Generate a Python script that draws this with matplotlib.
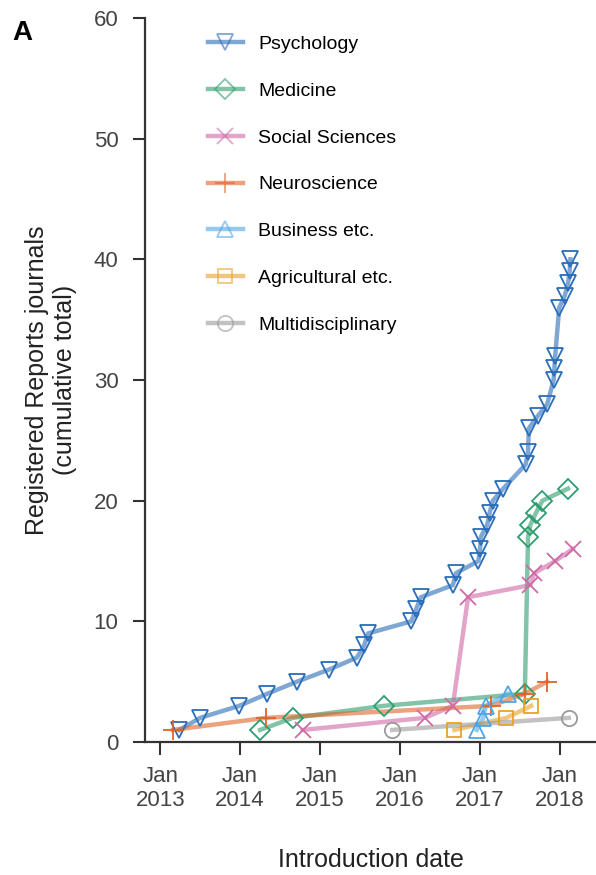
import matplotlib
matplotlib.use('Agg')
import matplotlib.pyplot as plt

plt.rcParams['font.family'] = ['Liberation Sans', 'DejaVu Sans']

# decimal years (introduction date) and cumulative totals
psych_dates = [2013.24, 2013.50, 2013.99, 2014.34, 2014.71, 2015.11, 2015.46, 2015.55, 2015.60,
               2016.14, 2016.20, 2016.26, 2016.66, 2016.70, 2016.98, 2017.00, 2017.01, 2017.09,
               2017.12, 2017.16, 2017.29, 2017.57, 2017.60, 2017.61, 2017.72, 2017.84, 2017.92,
               2017.93, 2017.94, 2017.99, 2018.06, 2018.10, 2018.12, 2018.13]
psych_vals = [1, 2, 3, 4, 5, 6, 7, 8, 9, 10, 11, 12, 13, 14, 15, 16, 17, 18, 19, 20, 21,
              23, 24, 26, 27, 28, 30, 31, 32, 36, 37, 38, 39, 40]

med_dates = [2014.25, 2014.66, 2015.80, 2017.56, 2017.60, 2017.63, 2017.70, 2017.78, 2018.10]
med_vals = [1, 2, 3, 4, 17, 18, 19, 20, 21]

soc_dates = [2014.78, 2016.31, 2016.66, 2016.85, 2017.63, 2017.68, 2017.94, 2018.16]
soc_vals = [1, 2, 3, 12, 13, 14, 15, 16]

neuro_dates = [2013.16, 2014.32, 2017.14, 2017.56, 2017.84]
neuro_vals = [1, 2, 3, 4, 5]

bus_dates = [2016.96, 2017.04, 2017.07, 2017.35]
bus_vals = [1, 2, 3, 4]

agri_dates = [2016.68, 2017.33, 2017.64]
agri_vals = [1, 2, 3]

multi_dates = [2015.90, 2018.11]
multi_vals = [1, 2]

years = [2013, 2014, 2015, 2016, 2017, 2018]
tick_labels = ['Jan\n%d' % y for y in years]

series = [
    ('Psychology', psych_dates, psych_vals, 'v', '#2a6db8'),
    ('Medicine', med_dates, med_vals, 'D', '#2e9e6e'),
    ('Social Sciences', soc_dates, soc_vals, 'x', '#cf6aa6'),
    ('Neuroscience', neuro_dates, neuro_vals, '+', '#de6428'),
    ('Business etc.', bus_dates, bus_vals, '^', '#4ea6e6'),
    ('Agricultural etc.', agri_dates, agri_vals, 's', '#e8a12a'),
    ('Multidisciplinary', multi_dates, multi_vals, 'o', '#9a9a9a'),
]
msizes = {'v': 11, 'D': 10, 'x': 11, '+': 15, '^': 11, 's': 10, 'o': 11}

fig = plt.figure(figsize=(5.96, 8.75), dpi=100)
ax = fig.add_axes([145 / 596, 133 / 875, 451 / 596, 724 / 875])

handles = []
for name, x, y, m, c in series:
    ax.plot(x, y, color=c, alpha=0.6, linewidth=3.2, zorder=2)
    ax.plot(x, y, linestyle='none', marker=m, markersize=msizes[m], markerfacecolor='none',
            markeredgecolor=c, markeredgewidth=1.3, zorder=3)
    h, = ax.plot([], [], color=c, linewidth=3.2, alpha=0.6, marker=m, markersize=msizes[m],
                 markerfacecolor='none', markeredgecolor=c, markeredgewidth=1.3)
    handles.append(h)

ax.legend(handles, [s[0] for s in series], loc='upper left', bbox_to_anchor=(0.10, 1.0),
          frameon=False, fontsize=14, labelspacing=1.5, handlelength=1.8, handletextpad=0.8)

ax.set_xlim(2012.81, 2018.45)
ax.set_ylim(0, 60)
ax.set_xticks(years)
ax.set_xticklabels(tick_labels)
ax.set_yticks(range(0, 61, 10))

for s in ['top', 'right']:
    ax.spines[s].set_visible(False)
for s in ['left', 'bottom']:
    ax.spines[s].set_linewidth(1.6)
    ax.spines[s].set_color('#333333')

ax.tick_params(axis='both', direction='out', length=9, width=1.5, color='#333333',
               labelcolor='#444444', labelsize=16)
ax.tick_params(axis='y', pad=10)
ax.tick_params(axis='x', pad=8)

ax.set_xlabel('Introduction date', fontsize=18, color='#222222', labelpad=27)
ax.set_ylabel('Registered Reports journals\n(cumulative total)', fontsize=18,
              color='#222222', labelpad=12)

fig.text(0.02, 0.962, 'A', fontsize=20, fontweight='bold', ha='left', va='center')

fig.savefig('out.png', dpi=100)
